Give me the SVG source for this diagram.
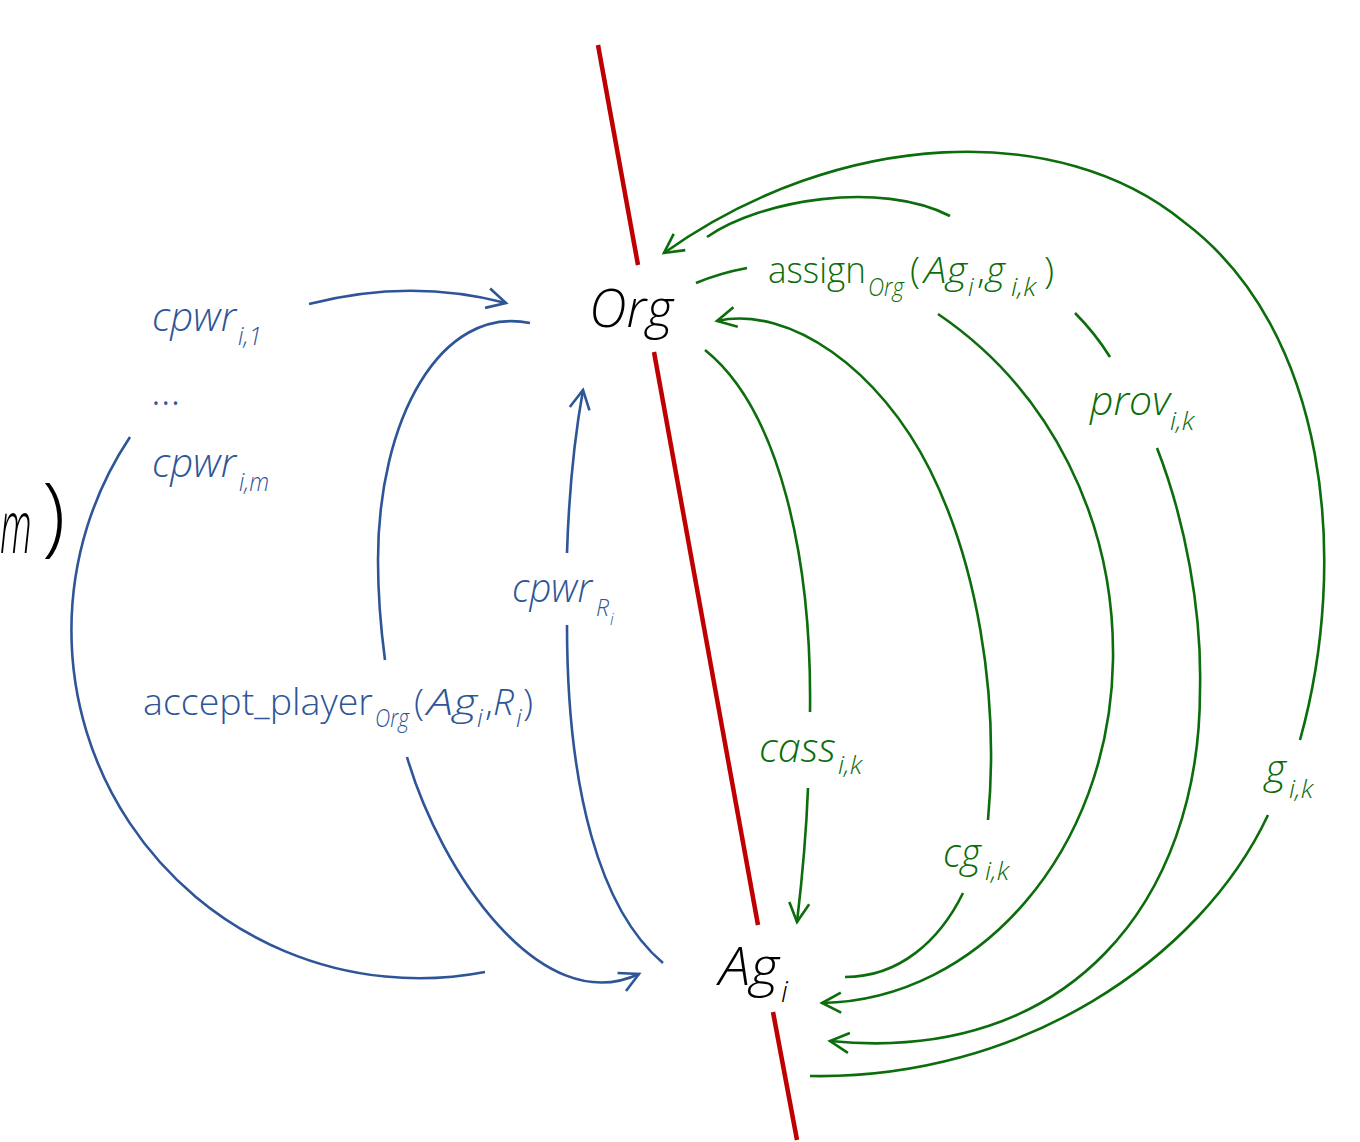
<svg xmlns="http://www.w3.org/2000/svg" width="1360" height="1142" viewBox="0 0 1360 1142">
  <style>
    text { font-family: "Open Sans", "Liberation Sans", sans-serif; font-weight: 300; }
    .it { font-style: italic; }
    .blk { fill: #000000; }
    .blue { fill: #2e5597; }
    .green { fill: #0b6d0b; }
    .big { font-size: 54px; }
    .lbl { font-size: 41px; }
    .sub { font-size: 25px; }
    .cb { fill: none; stroke: #2e5597; stroke-width: 2.6; stroke-linecap: butt; }
    .cg { fill: none; stroke: #0b6d0b; stroke-width: 2.6; stroke-linecap: butt; }
    .axis { fill: none; stroke: #c00000; stroke-width: 4.5; }
  </style>
  <defs>
    <marker id="arrowBlue" markerUnits="userSpaceOnUse" viewBox="-24 -14 28 28" markerWidth="28" markerHeight="28" refX="0" refY="0" orient="auto" overflow="visible">
      <path d="M-19,-10 L0,0 L-19,10" fill="none" stroke="#2e5597" stroke-width="2.6"/>
    </marker>
    <marker id="arrowGreen" markerUnits="userSpaceOnUse" viewBox="-24 -14 28 28" markerWidth="28" markerHeight="28" refX="0" refY="0" orient="auto" overflow="visible">
      <path d="M-19,-10 L0,0 L-19,10" fill="none" stroke="#0b6d0b" stroke-width="2.6"/>
    </marker>
  </defs>

  <rect width="1360" height="1142" fill="#ffffff"/>

  <!-- boundary line between the organisation and the agent -->
  <g id="boundary">
    <path class="axis" d="M598,45 L638,265"/>
    <path class="axis" d="M654,352 L758,925"/>
    <path class="axis" d="M773,1012 L797,1140"/>
  </g>

  <!-- tail of a formula at the left edge (narrowed italic m) -->
  <g id="formula-tail">
    <text class="blk it" transform="translate(0,553) scale(0.5,1)" x="0" y="0" font-size="74">m</text>
    <text class="blk" x="42" y="545" font-size="86">)</text>
  </g>

  <g id="connectors">
    <!-- blue: role side -->
    <path class="cb" d="M309,304 Q410,278 506,303" marker-end="url(#arrowBlue)"/>
    <path class="cb" d="M130,437 A348,348 0 0 0 485,972"/>
    <path class="cb" d="M530,323 C440,305 378,420 378,560 C378,600 381,630 385,660"/>
    <path class="cb" d="M407,757 C440,870 540,1020 639,974" marker-end="url(#arrowBlue)"/>
    <path class="cb" d="M663,963 C600,910 567,790 567,625"/>
    <path class="cb" d="M567,553 C569,490 574,440 583,390" marker-end="url(#arrowBlue)"/>

    <!-- green: goal side -->
    <path class="cg" d="M1268,815 C1200,960 1020,1080 810,1076"/>
    <path class="cg" d="M1300,740 C1350,560 1328,330 1184,222 C1060,120 840,128 664,253" marker-end="url(#arrowGreen)"/>
    <path class="cg" d="M707,237 C760,200 880,180 950,216"/>
    <path class="cg" d="M1075,313 Q1095,333 1110,357"/>
    <path class="cg" d="M1157,448 C1185,520 1202,610 1200,690 C1200,900 1070,1065 830,1041" marker-end="url(#arrowGreen)"/>
    <path class="cg" d="M696,283 Q720,273 747,268"/>
    <path class="cg" d="M938,314 C1050,390 1115,520 1113,660 C1110,850 980,1000 822,1003" marker-end="url(#arrowGreen)"/>
    <path class="cg" d="M988,820 C1000,690 975,560 930,470 C880,370 790,305 717,321" marker-end="url(#arrowGreen)"/>
    <path class="cg" d="M963,893 C940,940 900,977 845,977"/>
    <path class="cg" d="M705,350 C780,410 812,560 810,712"/>
    <path class="cg" d="M808,788 C806,840 802,880 797,922" marker-end="url(#arrowGreen)"/>
  </g>

  <g id="node-org">
    <text class="blk it big" x="589" y="327" textLength="84" lengthAdjust="spacingAndGlyphs">Org</text>
  </g>

  <g id="node-agent">
    <text class="blk it big" x="719" y="985" textLength="60" lengthAdjust="spacingAndGlyphs">Ag</text>
    <text class="blk it" x="781" y="1002" font-size="30">i</text>
  </g>

  <g id="labels">
    <!-- role powers -->
    <text class="blue it lbl" x="152" y="331" textLength="84" lengthAdjust="spacingAndGlyphs">cpwr</text>
    <text class="blue it sub" x="238" y="345" textLength="24" lengthAdjust="spacingAndGlyphs">i,1</text>
    <text class="blue lbl" x="151" y="405" font-size="30">…</text>
    <text class="blue it lbl" x="152" y="477" textLength="84" lengthAdjust="spacingAndGlyphs">cpwr</text>
    <text class="blue it sub" x="239" y="491" textLength="30" lengthAdjust="spacingAndGlyphs">i,m</text>

    <text class="blue" x="143" y="715" font-size="37" textLength="230" lengthAdjust="spacingAndGlyphs">accept_player</text>
    <text class="blue it sub" x="375" y="727" textLength="34" lengthAdjust="spacingAndGlyphs">Org</text>
    <text class="blue" x="414" y="715" font-size="37">(</text>
    <text class="blue it" x="427" y="715" font-size="37" textLength="50" lengthAdjust="spacingAndGlyphs">Ag</text>
    <text class="blue it sub" x="477" y="727">i</text>
    <text class="blue" x="485" y="715" font-size="37">,</text>
    <text class="blue it" x="493" y="715" font-size="37">R</text>
    <text class="blue it sub" x="516" y="727">i</text>
    <text class="blue" x="523" y="715" font-size="37">)</text>

    <text class="blue it lbl" x="512" y="602" textLength="80" lengthAdjust="spacingAndGlyphs">cpwr</text>
    <text class="blue it" x="596" y="616" font-size="23">R</text>
    <text class="blue it" x="610" y="625" font-size="16">i</text>

    <!-- goal handling -->
    <text class="green" x="768" y="283" font-size="37" textLength="98" lengthAdjust="spacingAndGlyphs">assign</text>
    <text class="green it sub" x="868" y="296" textLength="36" lengthAdjust="spacingAndGlyphs">Org</text>
    <text class="green" x="910" y="283" font-size="37">(</text>
    <text class="green it" x="924" y="283" font-size="37" textLength="43" lengthAdjust="spacingAndGlyphs">Ag</text>
    <text class="green it sub" x="968" y="296">i</text>
    <text class="green" x="977" y="283" font-size="37">,</text>
    <text class="green it" x="986" y="283" font-size="37">g</text>
    <text class="green it sub" x="1011" y="296" textLength="25" lengthAdjust="spacingAndGlyphs">i,k</text>
    <text class="green" x="1044" y="283" font-size="37">)</text>

    <text class="green it lbl" x="1090" y="415" textLength="80" lengthAdjust="spacingAndGlyphs">prov</text>
    <text class="green it sub" x="1170" y="430" textLength="24" lengthAdjust="spacingAndGlyphs">i,k</text>

    <text class="green it lbl" x="1265" y="783">g</text>
    <text class="green it sub" x="1289" y="798" textLength="24" lengthAdjust="spacingAndGlyphs">i,k</text>

    <text class="green it lbl" x="759" y="762" textLength="77" lengthAdjust="spacingAndGlyphs">cass</text>
    <text class="green it sub" x="838" y="774" textLength="24" lengthAdjust="spacingAndGlyphs">i,k</text>

    <text class="green it lbl" x="943" y="867" textLength="38" lengthAdjust="spacingAndGlyphs">cg</text>
    <text class="green it sub" x="985" y="880" textLength="24" lengthAdjust="spacingAndGlyphs">i,k</text>
  </g>
</svg>
